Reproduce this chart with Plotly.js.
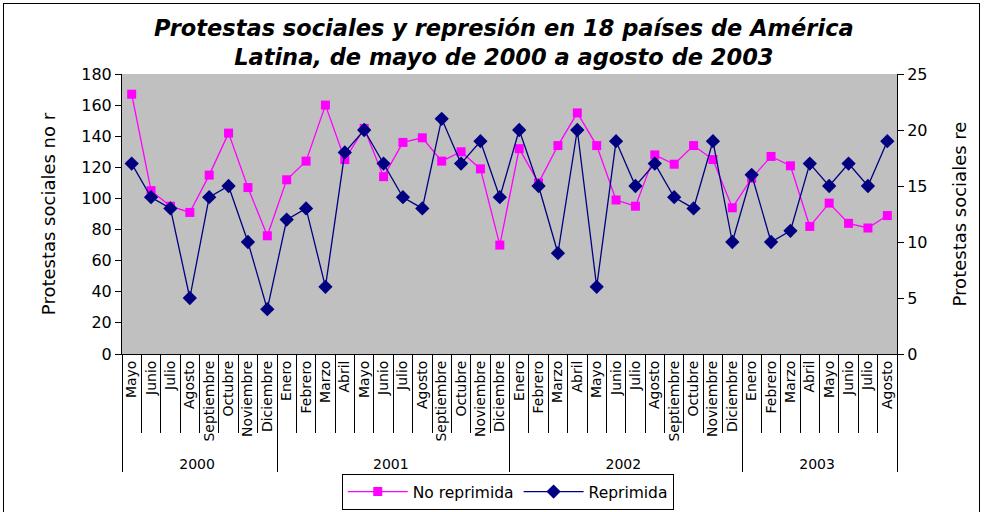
<!DOCTYPE html>
<html>
<head>
<meta charset="utf-8">
<script src="https://cdn.plot.ly/plotly-3.0.1.min.js"></script>
<style>
html,body{margin:0;padding:0;background:#fff;}
#wrap{position:absolute;left:3px;top:3px;width:977px;height:520px;border:1px solid #000;box-sizing:border-box;}
#chart{position:absolute;left:0;top:0;width:984px;height:512px;}
</style>
</head>
<body>
<div id="wrap"></div>
<div id="chart"></div>
<script>
const years = ["2000","2000","2000","2000","2000","2000","2000","2000",
  "2001","2001","2001","2001","2001","2001","2001","2001","2001","2001","2001","2001",
  "2002","2002","2002","2002","2002","2002","2002","2002","2002","2002","2002","2002",
  "2003","2003","2003","2003","2003","2003","2003","2003"];
const months = ["Mayo","Junio","Julio","Agosto","Septiembre","Octubre","Noviembre","Diciembre",
  "Enero","Febrero","Marzo","Abril","Mayo","Junio","Julio","Agosto","Septiembre","Octubre","Noviembre","Diciembre",
  "Enero","Febrero","Marzo","Abril","Mayo","Junio","Julio","Agosto","Septiembre","Octubre","Noviembre","Diciembre",
  "Enero","Febrero","Marzo","Abril","Mayo","Junio","Julio","Agosto"];
const noReprimida = [167,105,95,91,115,142,107,76,
  112,124,160,125,145,114,136,139,124,130,119,70,
  132,110,134,155,134,99,95,128,122,134,125,94,
  113,127,121,82,97,84,81,89];
const reprimida = [17,14,13,5,14,15,10,4,
  12,13,6,18,20,17,14,13,21,17,19,14,
  20,15,9,20,6,19,15,17,14,13,19,10,
  16,10,11,17,15,17,15,19];

// keep each (year, month) inner category unique so the axis keeps chronological order
const yearList = [...new Set(years)];
const monthKeys = months.map((m, i) => m + "\u200b".repeat(yearList.indexOf(years[i])));

const FONT = "DejaVu Sans, Verdana, sans-serif";
const traces = [
  {x:[years,monthKeys], y:noReprimida, name:"No reprimida", type:"scatter", mode:"lines+markers",
   line:{color:"#FF00FF", width:1.3}, marker:{symbol:"square", size:9, color:"#FF00FF"}, yaxis:"y"},
  {x:[years,monthKeys], y:reprimida, name:"Reprimida", type:"scatter", mode:"lines+markers",
   line:{color:"#000080", width:1.3}, marker:{symbol:"diamond", size:11, color:"#000080"}, yaxis:"y2"}
];

const layout = {
  width:984, height:512,
  margin:{l:122, r:87, t:74, b:158},
  paper_bgcolor:"rgba(0,0,0,0)",
  plot_bgcolor:"#C0C0C0",
  font:{family:FONT, color:"#000", size:14},
  showlegend:true,
  title:{text:"<b><i>Protestas sociales y represión en 18 países de América<br>Latina, de mayo de 2000 a agosto de 2003</i></b>",
    font:{family:FONT, size:22.5, color:"#000"},
    x:0.512, xanchor:"center", y:0.93, yanchor:"top"},
  xaxis:{type:"multicategory", range:[-0.5, months.length - 0.5], tickangle:-90, ticks:"outside", ticklen:78,
    tickcolor:"#000", tickwidth:1, dtick:1, tick0:0, automargin:false,
    showline:true, linecolor:"#000", linewidth:1, showdividers:true, dividercolor:"#000", dividerwidth:1,
    tickfont:{size:14}, showgrid:false, zeroline:false},
  yaxis:{range:[0,180], dtick:20, ticks:"outside", ticklen:6, tickcolor:"#000", showline:true, linecolor:"#000",
    showgrid:false, zeroline:false, tickfont:{size:16}, automargin:false,
    title:{text:"Protestas sociales no r", font:{size:18}, standoff:20}},
  yaxis2:{range:[0,25], dtick:5, overlaying:"y", side:"right", ticks:"outside", ticklen:6, tickcolor:"#000",
    showline:true, linecolor:"#000", showgrid:false, zeroline:false, tickfont:{size:16}, automargin:false,
    title:{text:"Protestas sociales re", font:{size:18}, standoff:26}},
  legend:{orientation:"h", xref:"container", x:0.516, xanchor:"center", yref:"container", y:0.004, yanchor:"bottom",
    bordercolor:"#000", borderwidth:1, bgcolor:"#fff", font:{size:15.5}, itemwidth:60}
};
Plotly.newPlot("chart", traces, layout, {displayModeBar:false});
</script>
</body>
</html>
